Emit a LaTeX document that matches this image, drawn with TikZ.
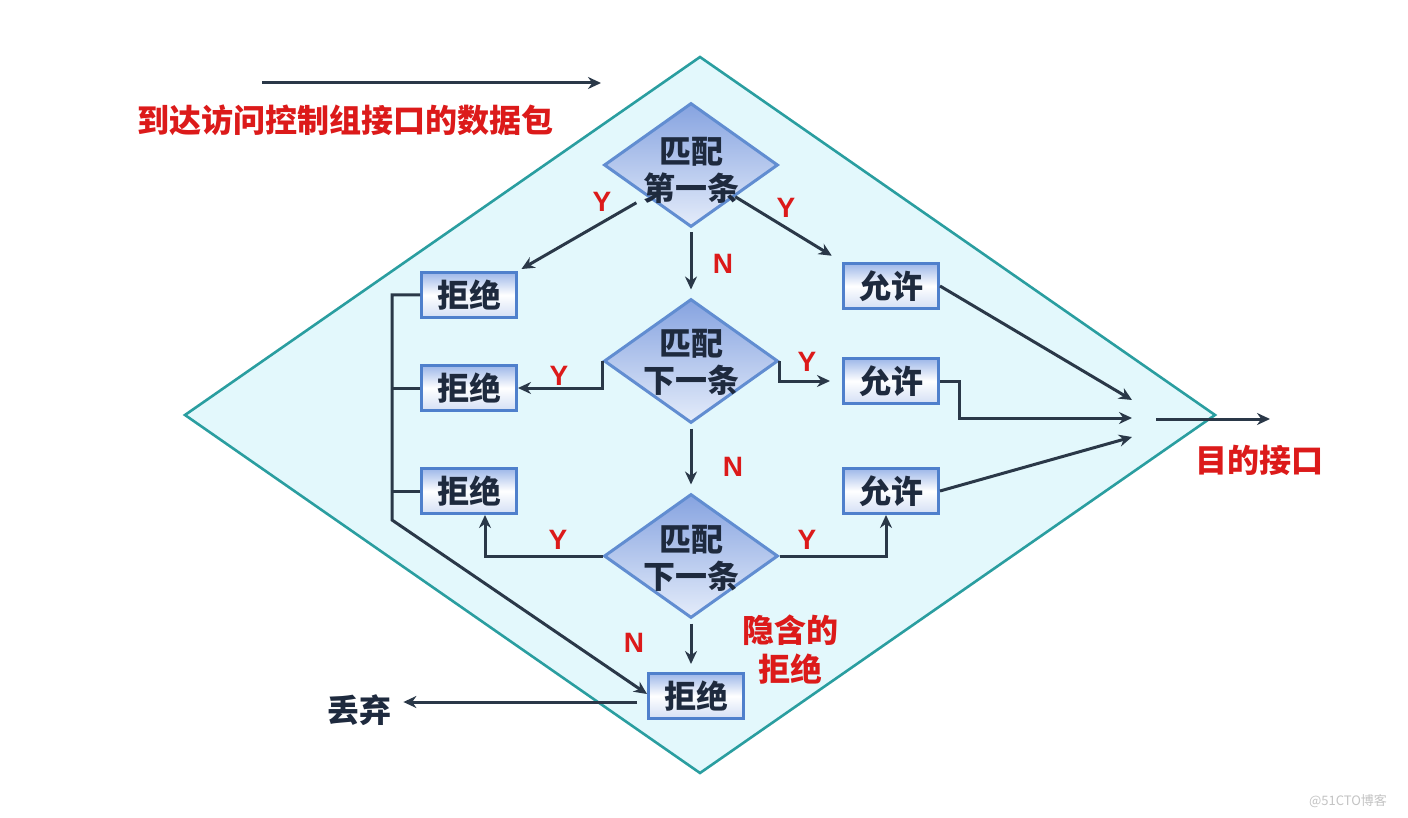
\documentclass[tikz,border=0pt]{standalone}
\usepackage{fontspec}
\setmainfont{Noto Sans CJK SC}
\newfontfamily\lat{Liberation Sans}
\usetikzlibrary{arrows.meta,shapes.geometric,calc}
\definecolor{teal1}{HTML}{2A9EA0}
\definecolor{cyanfill}{HTML}{E3F8FC}
\definecolor{dark}{HTML}{2A3848}
\definecolor{txt}{HTML}{1E2A3E}
\definecolor{red1}{HTML}{DC1A1A}
\definecolor{boxblue}{HTML}{4F80CC}
\definecolor{boxtop}{HTML}{9DB7E8}
\definecolor{diatop}{HTML}{86A3E0}
\definecolor{diabot}{HTML}{E4ECFA}
\definecolor{wm}{HTML}{C4C4C4}
\tikzset{
  arr/.style={draw=dark, line width=1.5pt, -{Stealth[length=6.5pt,width=6pt]}},
  ln/.style={draw=dark, line width=1.5pt},
  box/.style={draw=boxblue, line width=1.5pt, rectangle, minimum width=47.5pt, minimum height=22.5pt, inner sep=0pt,
    top color=boxtop, bottom color=boxtop!45, middle color=white, font=\fontsize{16}{19}\selectfont\bfseries, text=txt},
  dia/.style={draw=boxblue!90, line width=1.5pt, diamond, minimum width=87pt, minimum height=62pt, inner sep=0pt,
    top color=diatop, bottom color=diabot},
  dtext/.style={align=center, font=\fontsize{16}{18.5}\selectfont\bfseries, text=txt, inner sep=0pt},
  yn/.style={font=\lat\fontsize{14}{16}\selectfont\bfseries, text=red1, inner sep=0pt},
  redtxt/.style={font=\fontsize{16}{19.5}\selectfont\bfseries, text=red1, align=center, inner sep=0pt},
  plain/.style={font=\fontsize{16}{19}\selectfont\bfseries, text=txt, inner sep=0pt}
}
\begin{document}
\begin{tikzpicture}[x=0.5pt,y=-0.5pt]
\useasboundingbox[fill=white] (0,0) rectangle (1408,818);
% big diamond
\draw[draw=teal1, fill=cyanfill, line width=1.3pt] (700,57) -- (1215,415) -- (700,773) -- (185,415) -- cycle;

% title
\coordinate (inS) at (262,83);
\coordinate (inE) at (601,83);
\draw[arr] (inS) -- (inE);
\node[redtxt] (title) at (345,120) {到达访问控制组接口的数据包};

% decisions
\node[dia] (d1) at (691,165) {};
\node[dtext] (d1t) at (691,170) {匹配\\第一条};
\node[dia] (d2) at (691,361) {};
\node[dtext] (d2t) at (691,362) {匹配\\下一条};
\node[dia] (d3) at (691,556) {};
\node[dtext] (d3t) at (691,558) {匹配\\下一条};

% boxes
\node[box] (rej1) at (469,295) {拒绝};
\node[box] (rej2) at (469,388) {拒绝};
\node[box] (rej3) at (469,491) {拒绝};
\node[box] (rej4) at (696,696) {拒绝};
\node[box] (acc1) at (891,286) {允许};
\node[box] (acc2) at (891,381) {允许};
\node[box] (acc3) at (891,491) {允许};

% from d1
\draw[arr, shorten <=6pt, shorten >=2pt] (d1.south west) -- (rej1.north east);
\draw[arr, shorten >=6pt] (d1.south east) -- (acc1.north west);
\draw[arr, shorten <=2pt, shorten >=4pt] (d1.south) -- (d2.north);
% from d2
\draw[arr] (d2.west) |- (rej2.east);
\draw[arr, shorten >=6pt] (d2.east) |- (acc2.west);
\draw[arr, shorten <=2pt, shorten >=4pt] (d2.south) -- (d3.north);
% from d3
\draw[arr] (d3.west) -| ([xshift=8pt]rej3.south);
\draw[arr] (d3.east) -| ([xshift=-2.5pt]acc3.south);
\draw[arr, shorten <=2pt, shorten >=4pt] (d3.south) -- (d3.south |- rej4.north);

% left bus
\coordinate (busBot) at (392,520);
\draw[arr] (rej1.west) -| (busBot) -- ([yshift=1pt]rej4.west);
\draw[ln] (rej2.west) -- (rej2.west -| busBot);
\draw[ln] (rej3.west) -- (rej3.west -| busBot);

% discard
\node[plain] (drop) at (359,710) {丢弃};
\coordinate (dropS) at ([yshift=-3pt]rej4.west);
\draw[arr, shorten <=5pt, shorten >=6pt] (dropS) -- (drop.east |- dropS);

% merge to output
\coordinate (m1) at (1132,400);
\coordinate (m2) at (1132,418);
\coordinate (m3) at (1132,437);
\draw[arr] (acc1.east) -- (m1);
\draw[arr] (acc2.east) -- ++(19,0) |- (m2);
\draw[arr] (acc3.east) -- (m3);
\coordinate (o1) at (1156,419);
\coordinate (o2) at (1270,419);
\draw[arr] (o1) -- (o2);
\node[redtxt] (dest) at (1259,460) {目的接口};

% implicit deny
\node[redtxt] (impl) at (790,650) {隐含的\\拒绝};

% Y/N labels
\node[yn] (y1) at (602,202) {Y};
\node[yn] (y2) at (786,208) {Y};
\node[yn] (n1) at (723,264) {N};
\node[yn] (y3) at (559,376) {Y};
\node[yn] (y4) at (807,362) {Y};
\node[yn] (n2) at (733,467) {N};
\node[yn] (y5) at (558,540) {Y};
\node[yn] (y6) at (807,540) {Y};
\node[yn] (n3) at (634,643) {N};

% watermark
\node[font=\fontsize{6.5}{8}\selectfont, text=wm, inner sep=0pt] (wmk) at (1348,801) {@51CTO博客};
\end{tikzpicture}
\end{document}
